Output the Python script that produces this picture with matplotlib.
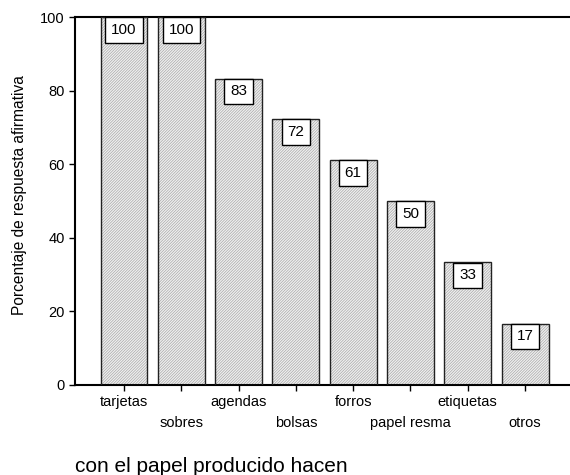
import matplotlib
matplotlib.use('Agg')
import matplotlib.pyplot as plt
import numpy as np

plt.rcParams['font.family'] = ['Liberation Sans', 'DejaVu Sans']
plt.rcParams['hatch.linewidth'] = 0.5

categorias = ['tarjetas', 'sobres', 'agendas', 'bolsas', 'forros',
              'papel resma', 'etiquetas', 'otros']
porcentajes = [100, 100, 83.3, 72.2, 61.1, 50, 33.3, 16.7]
etiquetas = ['100', '100', '83', '72', '61', '50', '33', '17']

fig = plt.figure(figsize=(5.7, 4.75), dpi=100)
ax = fig.add_axes([0.1316, 0.1895, 0.8684, 0.7745])

x = np.arange(len(categorias))
# hatched fill first, black outline on top
ax.bar(x, porcentajes, width=0.82, facecolor='#f0f0f0', edgecolor='#a8a8a8',
       hatch='////////////', linewidth=0, zorder=2)
ax.bar(x, porcentajes, width=0.82, fill=False, edgecolor='#222222',
       linewidth=1.0, zorder=3)

for xi, v, t in zip(x, porcentajes, etiquetas):
    ax.text(xi, v - 1.6, t, ha='center', va='top', fontsize=11, zorder=4,
            bbox=dict(boxstyle='square,pad=0.38', facecolor='white',
                      edgecolor='black', linewidth=1.0))

ax.set_xlim(-0.855, 7.785)
ax.set_ylim(0, 100)
ax.set_yticks([0, 20, 40, 60, 80, 100])
ax.set_xticks(x)
ax.set_xticklabels(categorias, fontsize=10.5)
ax.tick_params(axis='y', labelsize=10.5, length=4, width=1)
ax.tick_params(axis='x', length=4, width=1, pad=3)
# alternate rows for the category labels
for i, tk in enumerate(ax.xaxis.get_major_ticks()):
    if i % 2 == 1:
        tk.set_pad(18)

ax.spines['right'].set_visible(False)
for s in ['left', 'bottom', 'top']:
    ax.spines[s].set_linewidth(1.5)

ax.set_ylabel('Porcentaje de respuesta afirmativa', fontsize=11.2)
ax.yaxis.set_label_coords(-0.097, 0.516)
fig.text(0.1316, 1 - 467 / 475, 'con el papel producido hacen', fontsize=15,
         ha='left', va='center')

fig.savefig('out.png', dpi=100)
